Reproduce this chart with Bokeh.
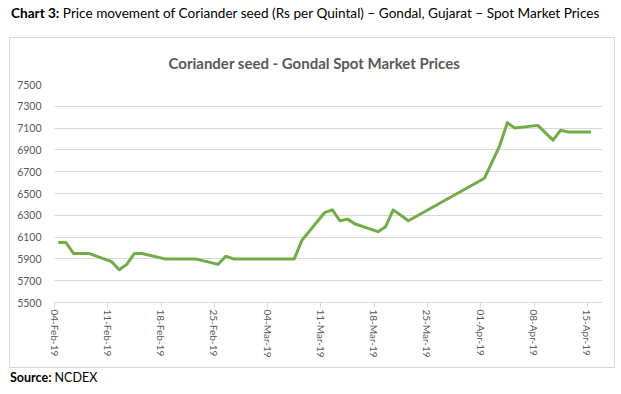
import math
import pandas as pd
from bokeh.plotting import figure
from bokeh.models import Range1d, FixedTicker, Div
from bokeh.layouts import column
from bokeh.embed import file_html
from bokeh.resources import INLINE

# ---- data ----
dates = ["2019-02-04", "2019-02-05", "2019-02-06", "2019-02-07", "2019-02-08",
         "2019-02-11", "2019-02-12", "2019-02-13", "2019-02-14", "2019-02-15",
         "2019-02-18", "2019-02-19", "2019-02-20", "2019-02-21", "2019-02-22",
         "2019-02-25", "2019-02-26", "2019-02-27", "2019-02-28", "2019-03-01",
         "2019-03-05", "2019-03-06", "2019-03-07", "2019-03-08",
         "2019-03-11", "2019-03-12", "2019-03-13", "2019-03-14", "2019-03-15",
         "2019-03-18", "2019-03-19", "2019-03-20", "2019-03-22",
         "2019-04-01", "2019-04-03", "2019-04-04", "2019-04-05",
         "2019-04-08", "2019-04-10", "2019-04-11", "2019-04-12", "2019-04-15"]
prices = [6050, 6050, 5950, 5950, 5950,
          5875, 5800, 5850, 5950, 5950,
          5900, 5900, 5900, 5900, 5900,
          5850, 5925, 5900, 5900, 5900,
          5900, 5900, 5900, 6070,
          6325, 6350, 6250, 6265, 6220,
          6150, 6195, 6350, 6250,
          6640, 6940, 7150, 7100,
          7125, 6990, 7080, 7065, 7065]
tick_dates = ["2019-02-04", "2019-02-11", "2019-02-18", "2019-02-25", "2019-03-04",
              "2019-03-11", "2019-03-18", "2019-03-25", "2019-04-01", "2019-04-08",
              "2019-04-15"]
tick_labels = ["04-Feb-19", "11-Feb-19", "18-Feb-19", "25-Feb-19", "04-Mar-19",
               "11-Mar-19", "18-Mar-19", "25-Mar-19", "01-Apr-19", "08-Apr-19",
               "15-Apr-19"]
y_ticks = [5500, 5700, 5900, 6100, 6300, 6500, 6700, 6900, 7100, 7300, 7500]

header_bold = "Chart 3:"
header_text = "Price movement of Coriander seed (Rs per Quintal) \u2013 Gondal, Gujarat \u2013 Spot Market Prices"
chart_title = "Coriander seed - Gondal Spot Market Prices"
source_bold = "Source:"
source_text = "NCDEX"

start = pd.Timestamp(dates[0])
xs = [(pd.Timestamp(d) - start).days + 0.5 for d in dates]
tick_x = [(pd.Timestamp(d) - start).days for d in tick_dates]

FONT = "Lato"
GREY = "#595959"
LIGHT = "#d9d9d9"

header_style = {"font-family": FONT, "font-size": "13.6px", "line-height": "20px",
                "color": "black", "white-space": "nowrap"}
source_style = {"font-family": FONT, "font-size": "12.5px", "line-height": "20px",
                "color": "black", "white-space": "nowrap"}

header = Div(text=f"<b>{header_bold}</b> {header_text}", width=607, height=20,
             margin=(3, 0, 0, 11), styles=header_style)

p = figure(width=606, height=331, output_backend="svg", toolbar_location=None,
           x_range=Range1d(0, 72), y_range=Range1d(5500, 7500),
           min_border_left=44, min_border_right=14, min_border_top=45,
           min_border_bottom=67, margin=(14, 0, 0, 9),
           styles={"border": "1px solid " + LIGHT})
p.outline_line_color = None
p.background_fill_color = "white"
p.border_fill_color = "white"

p.title.text = chart_title
p.title.align = "left"
p.title.offset = 114
p.title.standoff = 26
p.title.text_font = FONT
p.title.text_font_style = "bold"
p.title.text_font_size = "15px"
p.title.text_color = GREY

p.line(xs, prices, line_color="#70ad47", line_width=3, line_join="round")

# axes
p.xaxis.ticker = FixedTicker(ticks=tick_x)
p.xaxis.major_label_overrides = {t: l for t, l in zip(tick_x, tick_labels)}
p.xaxis.major_label_orientation = -math.pi / 2
p.xaxis.axis_line_color = LIGHT
p.xaxis.major_tick_line_color = LIGHT
p.xaxis.major_tick_out = 5
p.xaxis.major_tick_in = 0
p.xaxis.minor_tick_line_color = None
p.xaxis.major_label_standoff = 2

p.yaxis.ticker = FixedTicker(ticks=y_ticks)
p.yaxis.axis_line_color = None
p.yaxis.major_tick_line_color = None
p.yaxis.minor_tick_line_color = None
p.yaxis.major_label_standoff = 7

for ax in p.axis:
    ax.major_label_text_font = FONT
    ax.major_label_text_font_size = "10.5px"
    ax.major_label_text_color = GREY
p.xaxis.major_label_text_font_size = "10px"

p.xgrid.grid_line_color = None
p.ygrid.ticker = FixedTicker(ticks=y_ticks)
p.ygrid.grid_line_color = LIGHT
p.ygrid.grid_line_width = 1

source = Div(text=f"<b>{source_bold}</b> {source_text}", width=200, height=20,
             margin=(0, 0, 0, 10), styles=source_style)

layout = column(header, p, source, spacing=0)

open("out.html", "w").write(file_html(layout, INLINE))
